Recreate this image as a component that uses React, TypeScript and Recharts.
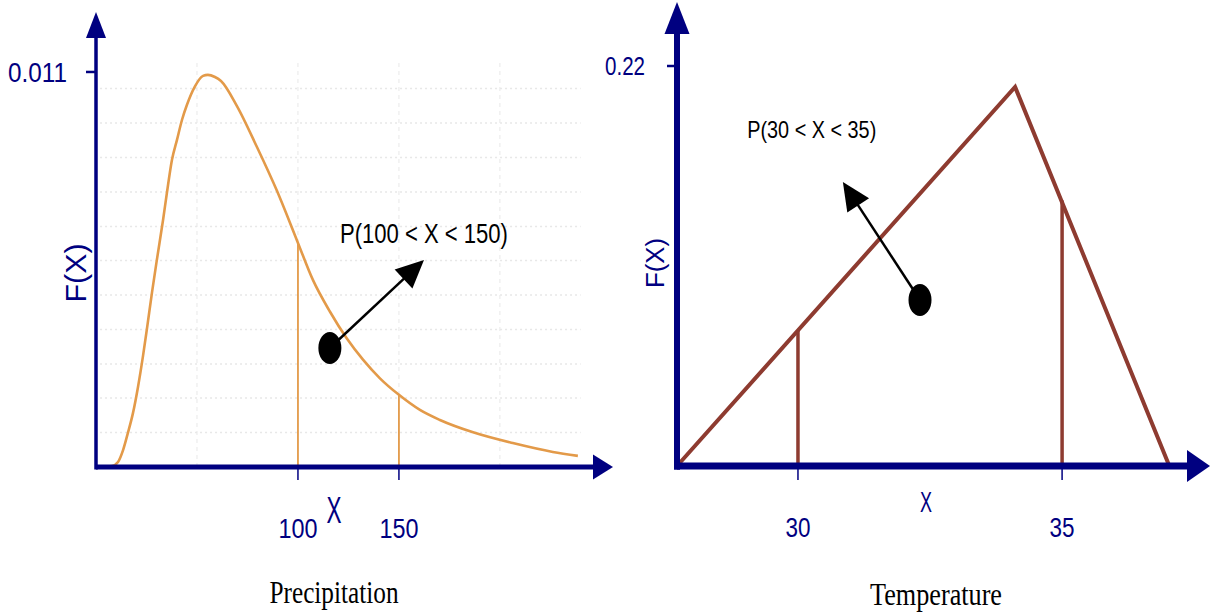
import React from "react";
import {
  LineChart,
  Line,
  XAxis,
  YAxis,
  ReferenceLine,
  ReferenceDot,
  Label,
} from "recharts";

const NAVY = "#000080";
const ORANGE = "#e39a49";
const BROWN = "#8e3b30";
const GRID = "#e8e8e8";
const NARROW = "'Liberation Sans Narrow', 'Liberation Sans', Arial, sans-serif";
const SANS = "'Liberation Sans', Arial, sans-serif";
const SERIF = "'Liberation Serif', 'Times New Roman', serif";

// precipitation: skewed density curve
const precipX = [
  0, 1, 7.9, 10.9, 13.4, 15.8, 18.3, 20.8, 23.3, 25.2, 27.7, 30.2, 33.2, 35.1,
  37.6, 40.1, 42.6, 45, 49, 53, 55.4, 58.9, 61.9, 69.8, 79.7, 89.6, 100, 107.4,
  115.8, 124.3, 132.2, 140.6, 150, 160.4, 170.3, 187.1, 206.9, 226.2, 238.6,
];
const precipDensity = [
  0, 0, 0.000028, 0.00014, 0.00047, 0.00095, 0.0015, 0.00223, 0.0031, 0.00384,
  0.00485, 0.00579, 0.00688, 0.00763, 0.00855, 0.00911, 0.00967, 0.01008,
  0.0106, 0.01089, 0.01092, 0.01086, 0.01075, 0.01005, 0.00891, 0.00769,
  0.00624, 0.00521, 0.00433, 0.00357, 0.00299, 0.00247, 0.00201, 0.00159,
  0.00131, 0.00096, 0.00066, 0.00042, 0.00031,
];
const precipCuts = [100, 150];
const precipCutDensity = [0.00624, 0.00201];
const precipXTicks = [100, 150];
const precipYTicks = [0.011];
const precipGridY = [
  0.00096, 0.00192, 0.00287, 0.00383, 0.00479, 0.00575, 0.0067, 0.00766,
  0.00862, 0.00958, 0.01054,
];
const precipGridX = [50, 100, 150, 200];

// temperature: triangular density
const tempX = [27.71, 34.11, 37.03];
const tempDensity = [0, 0.2085, 0];
const tempCuts = [30, 35];
const tempCutDensity = [0.0746, 0.146];
const tempXTicks = [30, 35];
const tempYTicks = [0.22];

const precipData = precipX.map((x, i) => ({ x, y: precipDensity[i] }));
const tempData = tempX.map((x, i) => ({ x, y: tempDensity[i] }));

// line with a filled triangular head at its end point
const arrowShape =
  (color: string, width: number, headLen: number, headHalf: number) =>
  (p: any) => {
    const { x1, y1, x2, y2 } = p;
    const dx = x2 - x1;
    const dy = y2 - y1;
    const len = Math.hypot(dx, dy) || 1;
    const ux = dx / len;
    const uy = dy / len;
    const bx = x2 - ux * headLen;
    const by = y2 - uy * headLen;
    const pts = `${x2},${y2} ${bx - uy * headHalf},${by + ux * headHalf} ${bx + uy * headHalf},${by - ux * headHalf}`;
    return (
      <g>
        <line
          x1={x1}
          y1={y1}
          x2={bx + ux}
          y2={by + uy}
          stroke={color}
          strokeWidth={width}
        />
        <polygon points={pts} fill={color} />
      </g>
    );
  };

const fmt = (v: number) => String(v);

const xTick =
  (fontSize: number, textWidth: number, tickLen: number) => (p: any) => (
    <g>
      <line
        x1={p.x}
        y1={p.y}
        x2={p.x}
        y2={p.y + tickLen}
        stroke={NAVY}
        strokeWidth={1.5}
      />
      <text
        x={p.x}
        y={p.y + 71}
        textAnchor="middle"
        fill={NAVY}
        fontSize={fontSize}
        fontFamily={NARROW}
        textLength={textWidth}
        lengthAdjust="spacingAndGlyphs"
      >
        {fmt(p.payload.value)}
      </text>
    </g>
  );

const yTick =
  (fontSize: number, textWidth: number, gap: number) => (p: any) => (
    <g>
      <line
        x1={p.x - 10}
        y1={p.y}
        x2={p.x}
        y2={p.y}
        stroke={NAVY}
        strokeWidth={2.5}
      />
      <text
        x={p.x - gap}
        y={p.y + fontSize * 0.36}
        textAnchor="end"
        fill={NAVY}
        fontSize={fontSize}
        fontFamily={NARROW}
        textLength={textWidth}
        lengthAdjust="spacingAndGlyphs"
      >
        {fmt(p.payload.value)}
      </text>
    </g>
  );

const textMark =
  (text: string, fontSize: number, textWidth: number) => (p: any) => (
    <text
      x={p.cx}
      y={p.cy}
      fill="#000"
      fontSize={fontSize}
      fontFamily={NARROW}
      textLength={textWidth}
      lengthAdjust="spacingAndGlyphs"
    >
      {text}
    </text>
  );

const blob = (p: any) => (
  <ellipse cx={p.cx} cy={p.cy} rx={11.5} ry={16} fill="#000" />
);

type TitleOpts = {
  dx: number;
  xDy: number;
  xSize: number;
  xWidth: number;
  caption: string;
  capDx: number;
  capDy: number;
  capWidth: number;
};

const xTitles = (o: TitleOpts) => (p: any) => {
  const vb = p.viewBox;
  return (
    <g>
      <text
        x={vb.x + o.dx}
        y={vb.y + o.xDy}
        textAnchor="middle"
        fill={NAVY}
        fontSize={o.xSize}
        fontFamily={NARROW}
        textLength={o.xWidth}
        lengthAdjust="spacingAndGlyphs"
      >
        X
      </text>
      <text
        x={vb.x + o.capDx}
        y={vb.y + o.capDy}
        textAnchor="middle"
        fill="#000"
        fontSize={31}
        fontFamily={SERIF}
        textLength={o.capWidth}
        lengthAdjust="spacingAndGlyphs"
      >
        {o.caption}
      </text>
    </g>
  );
};

const yTitle =
  (cx: number, cy: number, fontSize: number, length: number) => (p: any) => {
    const vb = p.viewBox;
    const x = vb.x + cx;
    const y = vb.y + cy;
    return (
      <text
        x={x}
        y={y}
        transform={`rotate(-90 ${x} ${y})`}
        textAnchor="middle"
        dominantBaseline="central"
        fill={NAVY}
        fontSize={fontSize}
        fontFamily={SANS}
        textLength={length}
        lengthAdjust="spacingAndGlyphs"
      >
        F(X)
      </text>
    );
  };

const PrecipChart = () => {
  const xMax = 256;
  const yMax = 0.01267;
  return (
    <LineChart
      width={620}
      height={613}
      margin={{ top: 12, right: 7, bottom: 0, left: 0 }}
    >
      <XAxis
        type="number"
        dataKey="x"
        domain={[0, xMax]}
        ticks={precipXTicks}
        axisLine={false}
        tickLine={false}
        tickSize={0}
        tickMargin={0}
        height={146}
        tick={xTick(28, 39, 13)}
        interval={0}
      >
        <Label
          content={xTitles({
            dx: 238,
            xDy: 56,
            xSize: 36,
            xWidth: 15,
            caption: "Precipitation",
            capDx: 238,
            capDy: 136,
            capWidth: 129,
          })}
        />
      </XAxis>
      <YAxis
        type="number"
        domain={[0, yMax]}
        ticks={precipYTicks}
        axisLine={false}
        tickLine={false}
        tickSize={0}
        tickMargin={0}
        width={96}
        tick={yTick(28, 59, 29)}
        interval={0}
      >
        <Label content={yTitle(75, 261, 30, 59)} />
      </YAxis>

      {precipGridY.map((v) => (
        <ReferenceLine
          key={`gy${v}`}
          segment={[
            { x: 2, y: v },
            { x: 240, y: v },
          ]}
          stroke={GRID}
          strokeWidth={1.5}
          strokeDasharray="2 3"
        />
      ))}
      {precipGridX.map((v) => (
        <ReferenceLine
          key={`gx${v}`}
          segment={[
            { x: v, y: 0 },
            { x: v, y: 0.0113 },
          ]}
          stroke={GRID}
          strokeWidth={1}
          strokeDasharray="4 4"
        />
      ))}

      <Line
        data={precipData}
        dataKey="y"
        type="monotone"
        stroke={ORANGE}
        strokeWidth={2.6}
        dot={false}
        activeDot={false}
        isAnimationActive={false}
      />
      {precipCuts.map((c, i) => (
        <ReferenceLine
          key={`cut${c}`}
          segment={[
            { x: c, y: 0 },
            { x: c, y: precipCutDensity[i] },
          ]}
          stroke={ORANGE}
          strokeWidth={1.8}
        />
      ))}

      {/* axes drawn as arrows */}
      <ReferenceLine
        segment={[
          { x: 0, y: 0 },
          { x: xMax, y: 0 },
        ]}
        ifOverflow="visible"
        shape={arrowShape(NAVY, 5, 20, 12.5)}
      />
      <ReferenceLine
        segment={[
          { x: 0, y: -0.00007 },
          { x: 0, y: yMax },
        ]}
        ifOverflow="visible"
        shape={arrowShape(NAVY, 3.5, 26, 10)}
      />

      <ReferenceLine
        segment={[
          { x: 115.8, y: 0.003314 },
          { x: 162.4, y: 0.005765 },
        ]}
        shape={arrowShape("#000", 2.5, 28, 13)}
      />
      <ReferenceDot x={115.8} y={0.003314} shape={blob} />
      <ReferenceDot
        x={120.8}
        y={0.006238}
        shape={textMark("P(100 < X < 150)", 27, 168)}
      />
    </LineChart>
  );
};

const TempChart = () => {
  const xMin = 27.71;
  const xMax = 37.8;
  const yMax = 0.2552;
  return (
    <LineChart
      width={613}
      height={613}
      margin={{ top: 2, right: 3, bottom: 0, left: 0 }}
    >
      <XAxis
        type="number"
        dataKey="x"
        domain={[xMin, xMax]}
        ticks={tempXTicks}
        axisLine={false}
        tickLine={false}
        tickSize={0}
        tickMargin={0}
        height={147}
        tick={xTick(28, 25, 14)}
        interval={0}
      >
        <Label
          content={xTitles({
            dx: 249,
            xDy: 46,
            xSize: 30,
            xWidth: 12,
            caption: "Temperature",
            capDx: 259,
            capDy: 139,
            capWidth: 132,
          })}
        />
      </XAxis>
      <YAxis
        type="number"
        domain={[0, yMax]}
        ticks={tempYTicks}
        axisLine={false}
        tickLine={false}
        tickSize={0}
        tickMargin={0}
        width={77}
        tick={yTick(26, 40, 32)}
        interval={0}
      >
        <Label content={yTitle(55, 261, 26, 50)} />
      </YAxis>

      <Line
        data={tempData}
        dataKey="y"
        type="linear"
        stroke={BROWN}
        strokeWidth={4}
        dot={false}
        activeDot={false}
        isAnimationActive={false}
      />
      {tempCuts.map((c, i) => (
        <ReferenceLine
          key={`cut${c}`}
          segment={[
            { x: c, y: 0 },
            { x: c, y: tempCutDensity[i] },
          ]}
          stroke={BROWN}
          strokeWidth={3.5}
        />
      ))}

      {/* axes drawn as arrows */}
      <ReferenceLine
        segment={[
          { x: xMin, y: 0 },
          { x: xMax, y: 0 },
        ]}
        ifOverflow="visible"
        shape={arrowShape(NAVY, 7, 23, 16)}
      />
      <ReferenceLine
        segment={[
          { x: xMin, y: -0.002 },
          { x: xMin, y: yMax },
        ]}
        ifOverflow="visible"
        shape={arrowShape(NAVY, 6, 32, 12.5)}
      />

      <ReferenceLine
        segment={[
          { x: 32.31, y: 0.0913 },
          { x: 30.85, y: 0.1562 },
        ]}
        shape={arrowShape("#000", 2.5, 28, 13)}
      />
      <ReferenceDot x={32.31} y={0.0913} shape={blob} />
      <ReferenceDot
        x={29.04}
        y={0.1804}
        shape={textMark("P(30 < X < 35)", 24, 129)}
      />
    </LineChart>
  );
};

export default function App() {
  return (
    <div
      style={{
        position: "relative",
        width: 1213,
        height: 613,
        overflow: "hidden",
        background: "#fff",
      }}
    >
      <style>{"body{margin:0}"}</style>
      <div style={{ position: "absolute", left: 0, top: 0 }}>
        <PrecipChart />
      </div>
      <div style={{ position: "absolute", left: 600, top: 0 }}>
        <TempChart />
      </div>
    </div>
  );
}
